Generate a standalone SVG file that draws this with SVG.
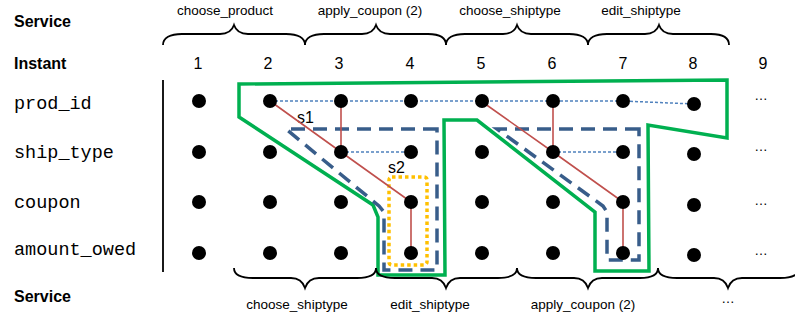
<svg xmlns="http://www.w3.org/2000/svg" width="795" height="320" viewBox="0 0 795 320">
<style>
.hdr{font-family:"Liberation Sans",Arial,sans-serif;font-weight:bold;font-size:16px;fill:#000}
.lbl{font-family:"Liberation Sans",Arial,sans-serif;font-size:13.5px;fill:#000;text-anchor:middle}
.num{font-family:"Liberation Sans",Arial,sans-serif;font-size:16px;fill:#000;text-anchor:middle}
.var{font-family:"Liberation Mono","Courier New",monospace;font-size:18.5px;fill:#000}
.sl{font-family:"Liberation Sans",Arial,sans-serif;font-size:16px;fill:#000}
.brace{fill:none;stroke:#000;stroke-width:1.8}
.dot{fill:#000}
.blue{fill:none;stroke:#4F81BD;stroke-width:1.5;stroke-dasharray:3 2}
.red{fill:none;stroke:#C0504D;stroke-width:1.6}
.green{fill:none;stroke:#00B050;stroke-width:3.5;stroke-linejoin:miter}
.slice{fill:none;stroke:#385D8A;stroke-width:3.5;stroke-dasharray:14 8}
.yel{fill:none;stroke:#FFC000;stroke-width:3.5;stroke-dasharray:3.5 3}
</style>
<text class="hdr" x="14" y="27">Service</text>
<text class="hdr" x="14" y="69">Instant</text>
<text class="hdr" x="14" y="302">Service</text>
<g id="top-services">
<text class="lbl" x="225" y="15">choose_product</text>
<text class="lbl" x="370" y="15">apply_coupon (2)</text>
<text class="lbl" x="510" y="15">choose_shiptype</text>
<text class="lbl" x="641" y="15">edit_shiptype</text>
<path class="brace" d="M163,45 C163,38 170,34 182,34 L220,34 C228,34 232,31 234,25 C236,31 240,34 248,34 L286,34 C298,34 305,38 305,45"/>
<path class="brace" d="M305,45 C305,38 312,34 324,34 L362,34 C370,34 374,31 376,25 C378,31 382,34 390,34 L428,34 C440,34 446,38 446,45"/>
<path class="brace" d="M446,45 C446,38 453,34 465,34 L503,34 C511,34 515,31 517,25 C519,31 523,34 531,34 L569,34 C581,34 588,38 588,45"/>
<path class="brace" d="M588,45 C588,38 595,34 607,34 L645,34 C653,34 657,31 659,25 C661,31 665,34 673,34 L711,34 C723,34 729,38 729,45"/>
</g>
<g id="instants">
<text class="num" x="198" y="69">1</text>
<text class="num" x="268" y="69">2</text>
<text class="num" x="339" y="69">3</text>
<text class="num" x="410" y="69">4</text>
<text class="num" x="481" y="69">5</text>
<text class="num" x="552" y="69">6</text>
<text class="num" x="623" y="69">7</text>
<text class="num" x="693" y="69">8</text>
<text class="num" x="763" y="69">9</text>
</g>
<g id="variables">
<text class="var" x="14" y="109">prod_id</text>
<text class="var" x="14" y="158">ship_type</text>
<text class="var" x="14" y="208">coupon</text>
<text class="var" x="14" y="255">amount_owed</text>
<line x1="163" y1="80" x2="163" y2="272" stroke="#000" stroke-width="1.8"/>
</g>
<g id="regions">
<polygon id="green-region" class="green" points="239,84 239,117 373,205 378,217 378,275 445,275 444,120 477,120 595,212 595,271 649,271 648,125 727,138 727,80"/>
<polygon id="slice-s1" class="slice" points="437,129 286,129 379,206 384,212 384,270 437,270"/>
<polygon id="slice-s2" class="slice" points="639,129 497,129 603,206 607,212 607,260 639,260"/>
<rect id="slice-s2-inner" class="yel" x="389" y="177" width="38" height="88" rx="3"/>
<text class="sl" x="297" y="123">s1</text>
<text class="sl" x="388" y="173">s2</text>
</g>
<g id="connectors">
<polyline class="blue" points="270,101 341,101 411,101 481,101 553,101 623,101 694,104"/>
<line class="blue" x1="341" y1="152" x2="411" y2="152"/>
<line class="blue" x1="553" y1="152" x2="623" y2="152"/>
<polyline class="red" points="270,101 341,152 411,202 411,253"/>
<line class="red" x1="341" y1="101" x2="341" y2="152"/>
<polyline class="red" points="481,101 553,152 623,202 623,253"/>
<line class="red" x1="553" y1="101" x2="553" y2="152"/>
</g>
<g id="dots">
<circle class="dot" cx="199" cy="101" r="7"/><circle class="dot" cx="199" cy="152" r="7"/><circle class="dot" cx="199" cy="202" r="7"/><circle class="dot" cx="199" cy="253" r="7"/>
<circle class="dot" cx="270" cy="101" r="7"/><circle class="dot" cx="270" cy="152" r="7"/><circle class="dot" cx="270" cy="202" r="7"/><circle class="dot" cx="270" cy="253" r="7"/>
<circle class="dot" cx="341" cy="101" r="7"/><circle class="dot" cx="341" cy="152" r="7"/><circle class="dot" cx="341" cy="202" r="7"/><circle class="dot" cx="341" cy="253" r="7"/>
<circle class="dot" cx="411" cy="101" r="7"/><circle class="dot" cx="411" cy="152" r="7"/><circle class="dot" cx="411" cy="202" r="7"/><circle class="dot" cx="411" cy="253" r="7"/>
<circle class="dot" cx="482" cy="101" r="7"/><circle class="dot" cx="482" cy="152" r="7"/><circle class="dot" cx="482" cy="202" r="7"/><circle class="dot" cx="482" cy="253" r="7"/>
<circle class="dot" cx="553" cy="101" r="7"/><circle class="dot" cx="553" cy="152" r="7"/><circle class="dot" cx="553" cy="202" r="7"/><circle class="dot" cx="553" cy="253" r="7"/>
<circle class="dot" cx="623" cy="101" r="7"/><circle class="dot" cx="623" cy="152" r="7"/><circle class="dot" cx="623" cy="202" r="7"/><circle class="dot" cx="623" cy="253" r="7"/>
<circle class="dot" cx="694" cy="104" r="7"/><circle class="dot" cx="694" cy="154" r="7"/><circle class="dot" cx="694" cy="205" r="7"/><circle class="dot" cx="694" cy="255" r="7"/>
<text class="lbl" x="761" y="100">…</text>
<text class="lbl" x="761" y="151">…</text>
<text class="lbl" x="761" y="205">…</text>
<text class="lbl" x="761" y="255">…</text>
</g>
<g id="bottom-services">
<path class="brace" d="M234,268 C234,275 241,278 253,278 L291,278 C299,278 303,282 305,288 C307,282 311,278 319,278 L357,278 C369,278 376,275 376,268"/>
<path class="brace" d="M376,268 C376,275 383,278 395,278 L432,278 C440,278 444,282 446,288 C448,282 452,278 460,278 L498,278 C510,278 517,275 517,268"/>
<path class="brace" d="M517,268 C517,275 524,278 536,278 L574,278 C582,278 586,282 588,288 C590,282 594,278 602,278 L640,278 C652,278 658,275 658,268"/>
<path class="brace" d="M658,268 C658,275 665,278 677,278 L714,278 C722,278 726,282 728,288 C730,282 734,278 742,278 L780,278 C792,278 799,275 799,268"/>
<text class="lbl" x="297" y="309">choose_shiptype</text>
<text class="lbl" x="430" y="309">edit_shiptype</text>
<text class="lbl" x="583" y="309">apply_coupon (2)</text>
<text class="lbl" x="728" y="303">…</text>
</g>
</svg>
